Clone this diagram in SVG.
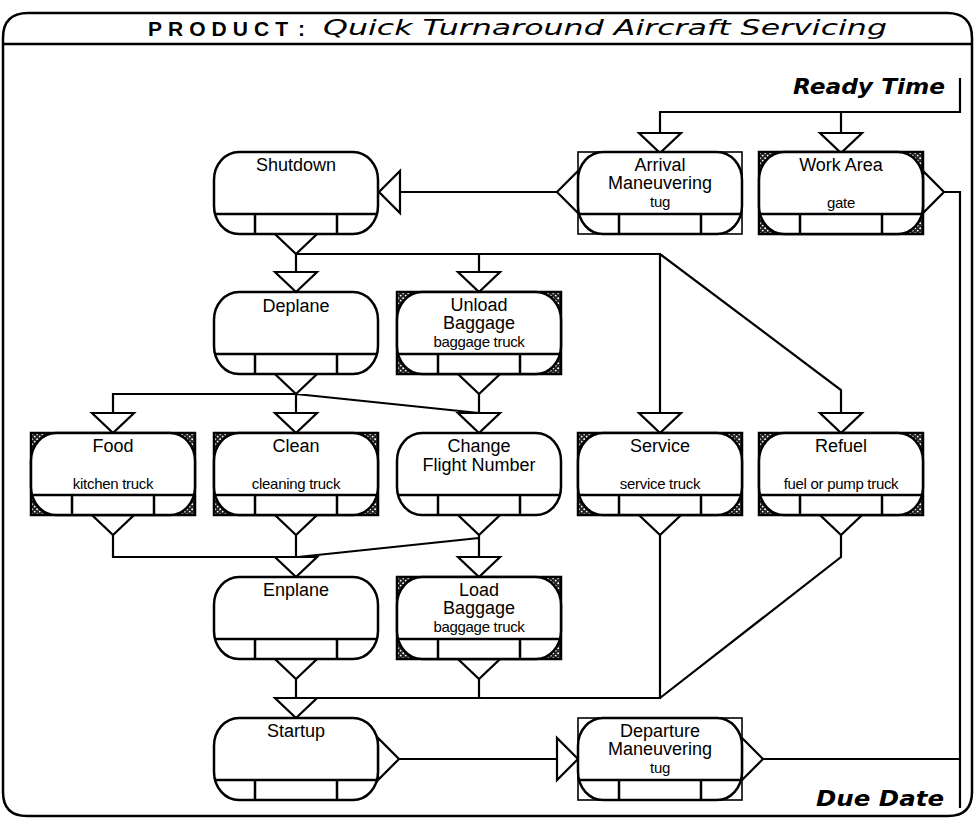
<svg xmlns="http://www.w3.org/2000/svg" xmlns:xlink="http://www.w3.org/1999/xlink" width="974" height="820" viewBox="0 0 974 820">
  <style>
    .frame { fill: none; stroke: #000; stroke-width: 2.5; }
    .shape { fill: #fff; stroke: #000; stroke-width: 2.5; }
    .strip { fill: none; stroke: #000; stroke-width: 2.5; }
    .res { fill: url(#stipple); stroke: #000; stroke-width: 2.5; }
    .plain { fill: #fff; stroke: #000; stroke-width: 1.6; }
    .conn { fill: none; stroke: #000; stroke-width: 2.2; stroke-linejoin: miter; }
    .tri { fill: #fff; stroke: #000; stroke-width: 2.2; stroke-linejoin: miter; }
    .t { font-family: "Liberation Sans", Arial, sans-serif; font-size: 18px; text-anchor: middle; fill: #000; }
    .s { font-family: "Liberation Sans", Arial, sans-serif; font-size: 15px; letter-spacing: -0.3px; text-anchor: middle; fill: #000; }
    .hdr { font-family: "Liberation Sans", Arial, sans-serif; font-size: 21px; font-weight: bold; fill: #000; }
    .ttl { font-family: "DejaVu Sans", "Liberation Sans", sans-serif; font-size: 22px; font-style: italic; fill: #000; }
    .lim { font-family: "DejaVu Sans", "Liberation Sans", sans-serif; font-size: 22px; font-style: italic; font-weight: bold; fill: #000; }
  </style>
  <defs>
    <pattern id="stipple" width="5" height="5" patternUnits="userSpaceOnUse">
      <rect width="5" height="5" fill="#222"/>
      <circle cx="1.2" cy="1.2" r="1" fill="#fff"/>
      <circle cx="3.7" cy="3.6" r="0.9" fill="#fff"/>
    </pattern>
    <!-- rounded activity body with its resource strip -->
    <g id="body">
      <rect x="0" y="0" width="164" height="82" rx="25" ry="28" class="shape"/>
      <path class="strip" d="M1,62 H163 M41,62 V82 M123,62 V82"/>
    </g>
    <path id="triDown" class="tri" d="M-21,0 H21 L0,20 Z"/>
    <path id="triRight" class="tri" d="M0,-21 V21 L21,0 Z"/>
    <path id="triLeft" class="tri" d="M0,-21 V21 L-21,0 Z"/>
  </defs>

  <rect width="974" height="820" fill="#fff"/>

  <!-- outer frame and header -->
  <g id="frame">
    <path class="frame" d="M3,38 Q3,13 28,13 H947 Q972,13 972,38 V792 Q972,816 948,816 H27 Q3,816 3,792 Z"/>
    <path class="frame" d="M3,44 H972"/>
    <text class="hdr" x="148" y="36" textLength="140" lengthAdjust="spacing">PRODUCT</text>
    <text class="hdr" x="298" y="36">:</text>
    <text class="ttl" x="323" y="35" textLength="564" lengthAdjust="spacingAndGlyphs">Quick Turnaround Aircraft Servicing</text>
    <text class="lim" x="793" y="94" textLength="152" lengthAdjust="spacingAndGlyphs">Ready Time</text>
    <text class="lim" x="816" y="806" textLength="128" lengthAdjust="spacingAndGlyphs">Due Date</text>
  </g>

  <!-- connectors -->
  <g id="connectors">
    <path class="conn" d="M960,78 V112 H660 V133 M841,112 V133"/>
    <path class="conn" d="M400,192 H560"/>
    <path class="conn" d="M944,192 H960 V808 M762,759 H960"/>
    <path class="conn" d="M296,254 H660 V413 M296,254 V272 M479,254 V272 M660,254 L841,390 V413"/>
    <path class="conn" d="M113,413 V394 H296 V413 M296,394 L479,413 M479,394 V413"/>
    <path class="conn" d="M113,535 V557 H296 M296,535 V557 M479,535 V557 M479,538 L298,557"/>
    <path class="conn" d="M296,679 V698 M479,679 V698 M296,698 H660 V535 M841,535 V557 L660,698"/>
    <path class="conn" d="M399,759 H557"/>
    <!-- ports -->
    <use xlink:href="#triDown" x="660" y="133"/>
    <use xlink:href="#triDown" x="841" y="133"/>
    <use xlink:href="#triLeft" x="400" y="192"/>
    <use xlink:href="#triLeft" x="578" y="192"/>
    <use xlink:href="#triRight" x="923" y="192"/>
    <use xlink:href="#triDown" x="296" y="234"/>
    <use xlink:href="#triDown" x="296" y="272"/>
    <use xlink:href="#triDown" x="479" y="272"/>
    <use xlink:href="#triDown" x="296" y="374"/>
    <use xlink:href="#triDown" x="479" y="374"/>
    <use xlink:href="#triDown" x="113" y="413"/>
    <use xlink:href="#triDown" x="296" y="413"/>
    <use xlink:href="#triDown" x="479" y="413"/>
    <use xlink:href="#triDown" x="660" y="413"/>
    <use xlink:href="#triDown" x="841" y="413"/>
    <use xlink:href="#triDown" x="113" y="515"/>
    <use xlink:href="#triDown" x="296" y="515"/>
    <use xlink:href="#triDown" x="479" y="515"/>
    <use xlink:href="#triDown" x="660" y="515"/>
    <use xlink:href="#triDown" x="841" y="515"/>
    <use xlink:href="#triDown" x="296" y="557"/>
    <use xlink:href="#triDown" x="479" y="557"/>
    <use xlink:href="#triDown" x="296" y="659"/>
    <use xlink:href="#triDown" x="479" y="659"/>
    <use xlink:href="#triDown" x="296" y="698"/>
    <use xlink:href="#triRight" x="378" y="759"/>
    <use xlink:href="#triRight" x="557" y="759"/>
    <use xlink:href="#triRight" x="742" y="759"/>
  </g>

  <!-- activities -->
  <g id="shutdown" transform="translate(214,152)">
    <use xlink:href="#body"/>
    <text class="t" x="82" y="19">Shutdown</text>
  </g>
  <g id="arrival" transform="translate(578,152)">
    <rect class="plain" width="164" height="82"/>
    <use xlink:href="#body"/>
    <text class="t" x="82" y="19">Arrival</text>
    <text class="t" x="82" y="37">Maneuvering</text>
    <text class="s" x="82" y="55">tug</text>
  </g>
  <g id="work-area" transform="translate(759,152)">
    <rect class="res" width="164" height="82"/>
    <use xlink:href="#body"/>
    <text class="t" x="82" y="19">Work Area</text>
    <text class="s" x="82" y="56">gate</text>
  </g>
  <g id="deplane" transform="translate(214,292)">
    <use xlink:href="#body"/>
    <text class="t" x="82" y="20">Deplane</text>
  </g>
  <g id="unload-baggage" transform="translate(397,292)">
    <rect class="res" width="164" height="82"/>
    <use xlink:href="#body"/>
    <text class="t" x="82" y="19">Unload</text>
    <text class="t" x="82" y="37">Baggage</text>
    <text class="s" x="82" y="55">baggage truck</text>
  </g>
  <g id="food" transform="translate(31,433)">
    <rect class="res" width="164" height="82"/>
    <use xlink:href="#body"/>
    <text class="t" x="82" y="19">Food</text>
    <text class="s" x="82" y="56">kitchen truck</text>
  </g>
  <g id="clean" transform="translate(214,433)">
    <rect class="res" width="164" height="82"/>
    <use xlink:href="#body"/>
    <text class="t" x="82" y="19">Clean</text>
    <text class="s" x="82" y="56">cleaning truck</text>
  </g>
  <g id="change-flight-number" transform="translate(397,433)">
    <use xlink:href="#body"/>
    <text class="t" x="82" y="19">Change</text>
    <text class="t" x="82" y="38">Flight Number</text>
  </g>
  <g id="service" transform="translate(578,433)">
    <rect class="res" width="164" height="82"/>
    <use xlink:href="#body"/>
    <text class="t" x="82" y="19">Service</text>
    <text class="s" x="82" y="56">service truck</text>
  </g>
  <g id="refuel" transform="translate(759,433)">
    <rect class="res" width="164" height="82"/>
    <use xlink:href="#body"/>
    <text class="t" x="82" y="19">Refuel</text>
    <text class="s" x="82" y="56">fuel or pump truck</text>
  </g>
  <g id="enplane" transform="translate(214,577)">
    <use xlink:href="#body"/>
    <text class="t" x="82" y="19">Enplane</text>
  </g>
  <g id="load-baggage" transform="translate(397,577)">
    <rect class="res" width="164" height="82"/>
    <use xlink:href="#body"/>
    <text class="t" x="82" y="19">Load</text>
    <text class="t" x="82" y="37">Baggage</text>
    <text class="s" x="82" y="55">baggage truck</text>
  </g>
  <g id="startup" transform="translate(214,718)">
    <use xlink:href="#body"/>
    <text class="t" x="82" y="19">Startup</text>
  </g>
  <g id="departure" transform="translate(578,718)">
    <rect class="plain" width="164" height="82"/>
    <use xlink:href="#body"/>
    <text class="t" x="82" y="19">Departure</text>
    <text class="t" x="82" y="37">Maneuvering</text>
    <text class="s" x="82" y="55">tug</text>
  </g>
</svg>
